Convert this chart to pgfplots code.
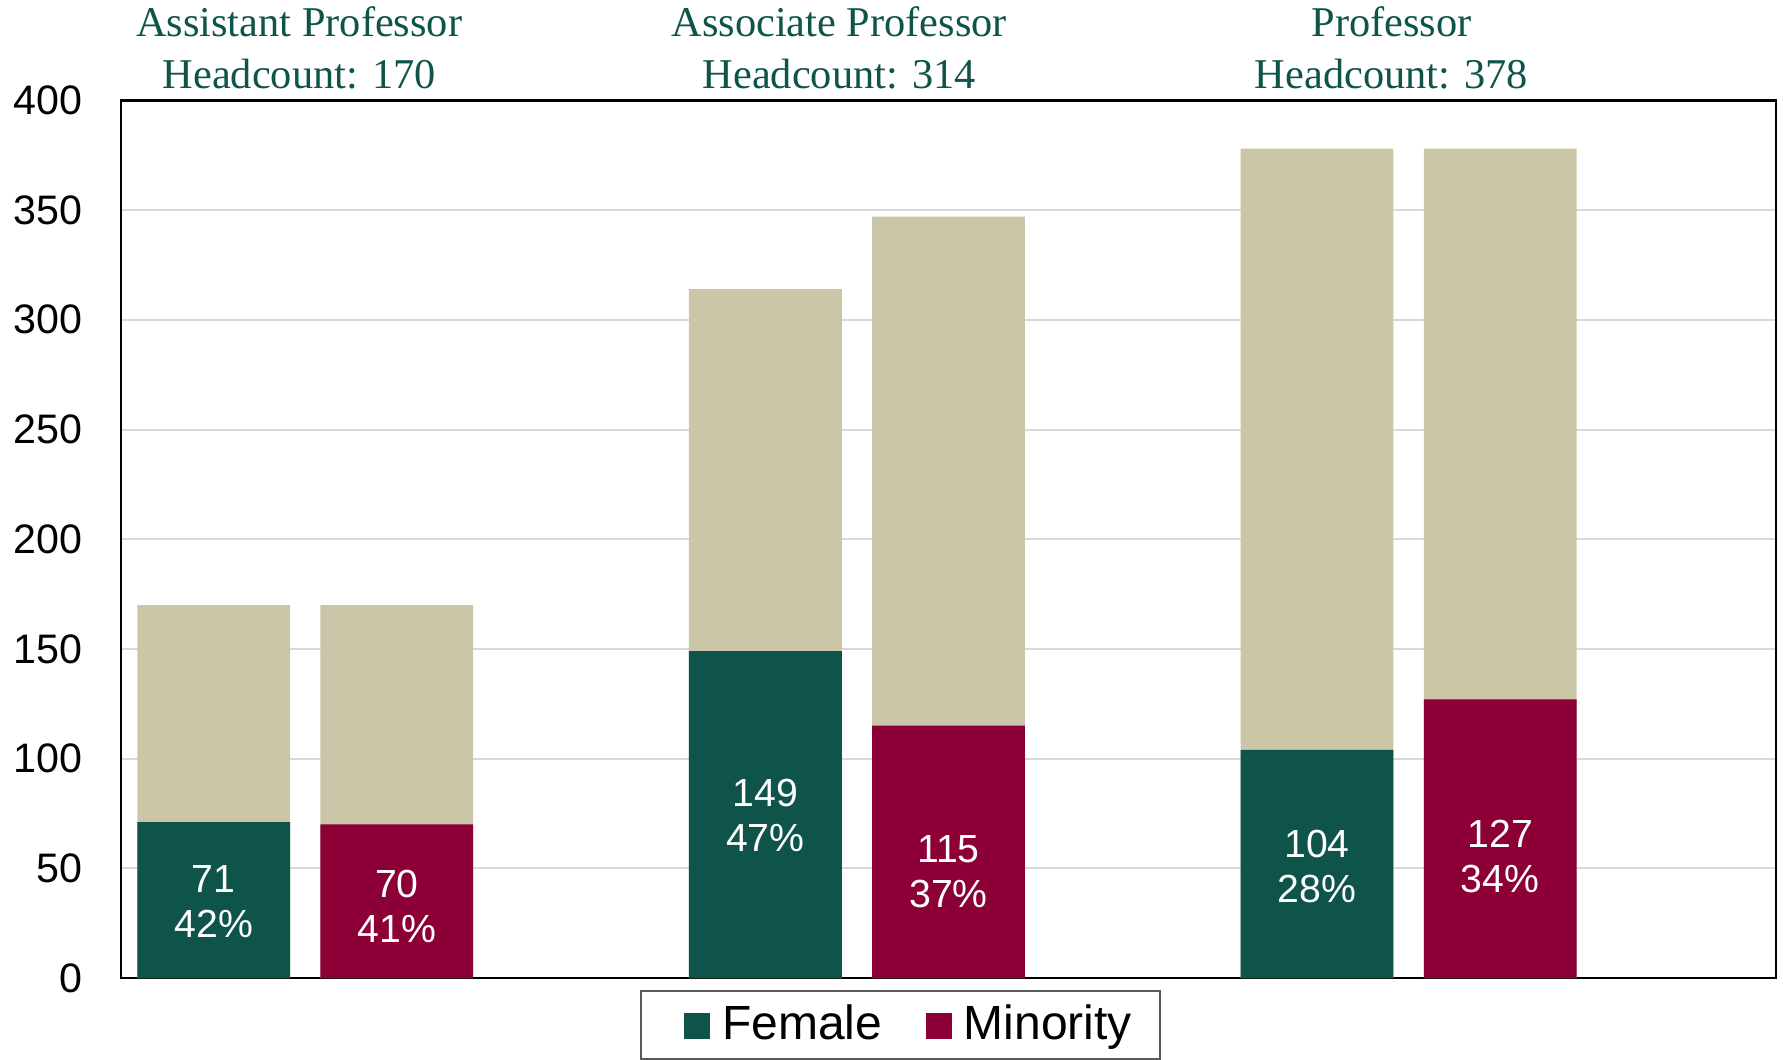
\documentclass[border=0pt]{standalone}
\usepackage{pgfplots}
\pgfplotsset{compat=1.18}
\usepackage{pgfplotstable}
\usepackage{fontspec}
\setmainfont{Liberation Sans}
\newfontfamily\titlefont{Liberation Serif}
\definecolor{fgreen}{HTML}{0F544A}
\definecolor{mred}{HTML}{8C0037}
\definecolor{beige}{HTML}{CBC6A8}
\definecolor{gridgray}{HTML}{D9D9D9}

\pgfplotstableread{
x total count
0.168 170 71
1.168 314 149
2.168 378 104
}\femaletab
\pgfplotstableread{
x total count
0.5 170 70
1.5 347 115
2.5 378 127
}\minoritytab

\begin{document}
\begin{tikzpicture}
\useasboundingbox (-30.25pt,-20.25pt) rectangle (415.5pt,244.5pt);
\begin{axis}[
  at={(0pt,0pt)}, anchor=south west,
  scale only axis, width=413.75pt, height=219.4pt,
  xmin=0, xmax=3, ymin=0, ymax=400,
  xtick=\empty,
  ytick={0,50,...,400},
  ymajorgrids, grid style={gridgray, line width=0.5pt},
  major tick length=0pt,
  axis line style={black, line width=0.6pt},
  yticklabel style={font=\fontsize{10.3}{12}\selectfont, anchor=east, inner sep=0pt, xshift=-9.5pt},
  /pgf/number format/assume math mode=true,
  clip=false,
  legend columns=2,
  legend image code/.code={\path (-5.7pt,0pt); \fill[#1] (0pt,-3.3pt) rectangle (6pt,2.7pt);},
  legend style={at={(axis description cs:0.471,0)}, anchor=north, yshift=-3pt,
    draw=gray!70!black, line width=0.5pt,
    font=\fontsize{12}{14}\selectfont,
    inner xsep=5.1pt, inner ysep=1.4pt,
    nodes={inner xsep=2pt},
    column sep=1.1pt,
    /tikz/every even column/.append style={column sep=3.1pt}},
]
\addplot[ybar, bar width=38.2pt, bar shift=0pt, fill=beige, draw=none, forget plot] table[x=x,y=total]{\femaletab};
\addplot[ybar, bar width=38.2pt, bar shift=0pt, fill=beige, draw=none, forget plot] table[x=x,y=total]{\minoritytab};
\addplot[ybar, bar width=38.2pt, bar shift=0pt, fill=fgreen, draw=none, forget plot] table[x=x,y=count]{\femaletab};
\addplot[ybar, bar width=38.2pt, bar shift=0pt, fill=mred, draw=none, forget plot] table[x=x,y=count]{\minoritytab};
\addlegendimage{fgreen}
\addlegendentry{Female}
\addlegendimage{mred}
\addlegendentry{Minority}

\tikzset{blab/.style={align=center, text=white, font=\fontsize{9.8}{11.25}\selectfont, inner sep=0pt}}
\node[blab] at (axis cs:0.168,35) {71\\42\%};
\node[blab] at (axis cs:0.5,32.6) {70\\41\%};
\node[blab] at (axis cs:1.168,74) {149\\47\%};
\node[blab] at (axis cs:1.5,48.5) {115\\37\%};
\node[blab] at (axis cs:2.168,51) {104\\28\%};
\node[blab] at (axis cs:2.5,55.4) {127\\34\%};

\tikzset{ttl/.style={anchor=base, text=fgreen, font=\titlefont\fontsize{10.6}{13}\selectfont, inner sep=0pt}}
\node[ttl, yshift=15.9pt] at (axis cs:0.323,400) {Assistant Professor};
\node[ttl, yshift=2.9pt] at (axis cs:0.323,400) {Headcount: 170};
\node[ttl, yshift=15.9pt] at (axis cs:1.302,400) {Associate Professor};
\node[ttl, yshift=2.9pt] at (axis cs:1.302,400) {Headcount: 314};
\node[ttl, yshift=15.9pt] at (axis cs:2.303,400) {Professor};
\node[ttl, yshift=2.9pt] at (axis cs:2.303,400) {Headcount: 378};
\end{axis}
\end{tikzpicture}
\end{document}
